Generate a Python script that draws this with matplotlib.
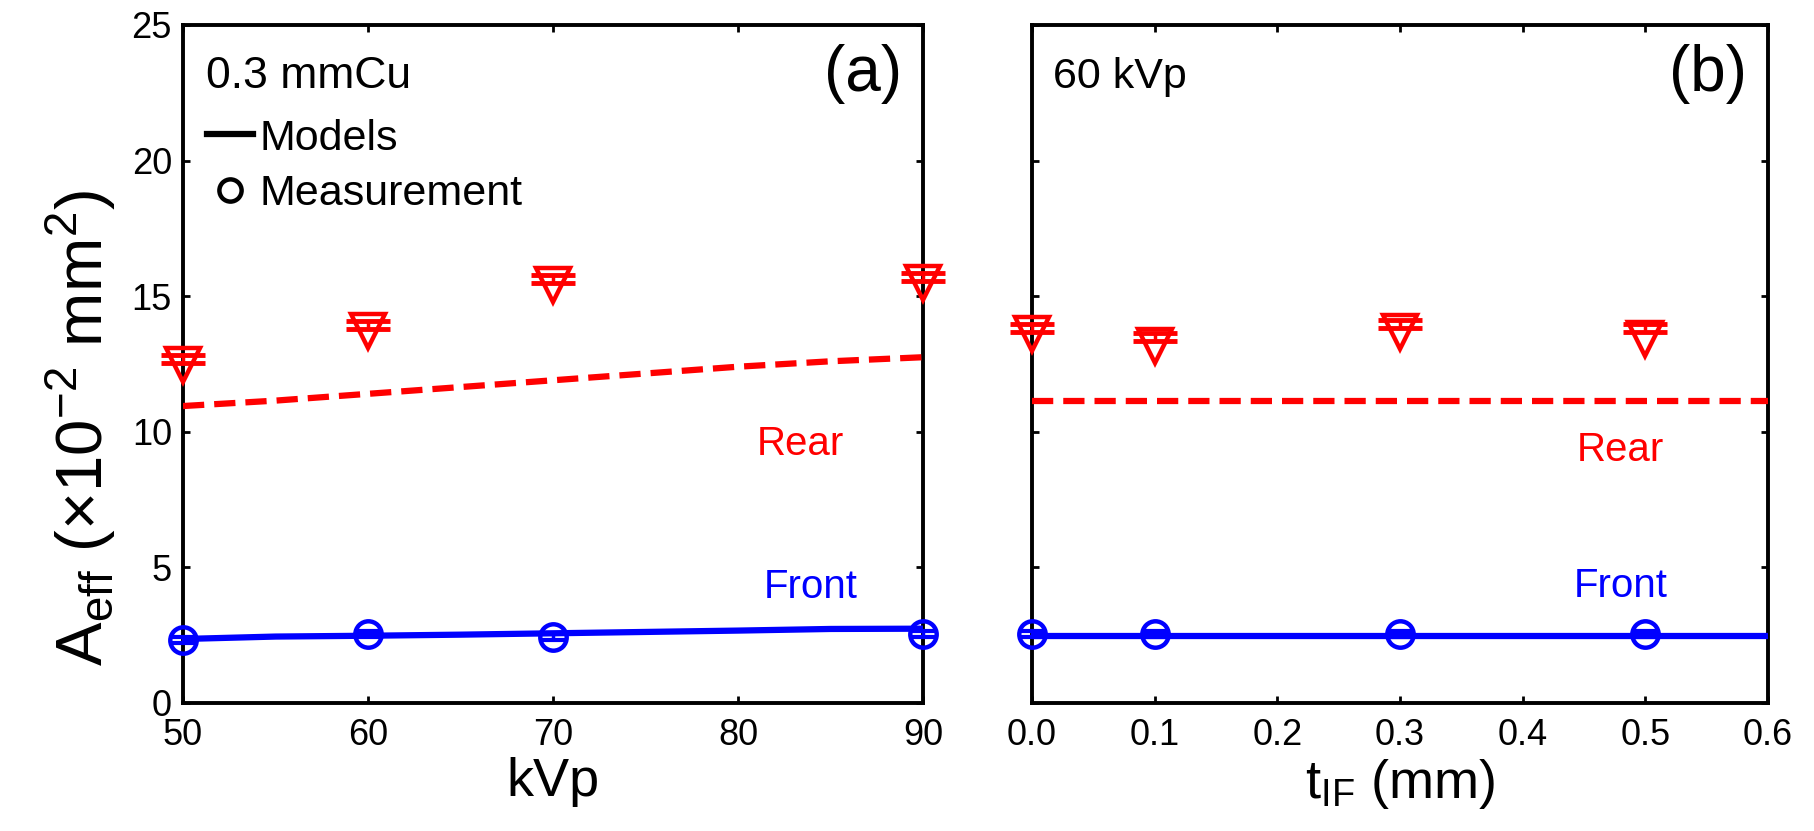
import matplotlib
matplotlib.use("Agg")
import matplotlib.pyplot as plt
from matplotlib.lines import Line2D

plt.rcParams['font.family'] = ['Liberation Sans', 'DejaVu Sans']
plt.rcParams['mathtext.fontset'] = 'custom'
plt.rcParams['mathtext.rm'] = 'Liberation Sans'

# ---------------- data ----------------
# panel (a): vs kVp (0.3 mmCu)
kvp_model = [50, 55, 60, 65, 70, 75, 80, 85, 90]
front_model_a = [2.36, 2.45, 2.48, 2.52, 2.57, 2.62, 2.67, 2.73, 2.74]
rear_model_a = [10.95, 11.15, 11.40, 11.65, 11.90, 12.15, 12.40, 12.60, 12.75]

kvp_meas = [50, 60, 70, 90]
front_meas_a = [2.33, 2.55, 2.45, 2.55]
front_err_a = [0.12, 0.12, 0.12, 0.12]
rear_meas_a = [12.46, 13.72, 15.42, 15.48]
rear_bar_a = [12.70, 13.95, 15.65, 15.70]
rear_err_a = [0.15, 0.15, 0.15, 0.15]

# panel (b): vs t_IF (60 kVp)
tif_model = [0.0, 0.1, 0.2, 0.3, 0.4, 0.5, 0.6]
front_model_b = [2.47, 2.47, 2.47, 2.47, 2.47, 2.47, 2.47]
rear_model_b = [11.15, 11.15, 11.15, 11.15, 11.15, 11.15, 11.15]

tif_meas = [0.0, 0.1, 0.3, 0.5]
front_meas_b = [2.55, 2.55, 2.55, 2.55]
front_err_b = [0.12, 0.12, 0.12, 0.12]
rear_meas_b = [13.60, 13.18, 13.69, 13.44]
rear_bar_b = [13.83, 13.48, 13.97, 13.83]
rear_err_b = [0.15, 0.15, 0.15, 0.15]

xticks_a = [50, 60, 70, 80, 90]
xticks_b = [0.0, 0.1, 0.2, 0.3, 0.4, 0.5, 0.6]
xticklabels_b = ['0.0', '0.1', '0.2', '0.3', '0.4', '0.5', '0.6']
yticks = [0, 5, 10, 15, 20, 25]

# ---------------- styles ----------------
BLUE = '#0000ff'
RED = '#ff0000'
LW = 4.5
TICK_FS = 26
LABEL_FS = 39
YLABEL_FS = 47
NOTE_FS = 29
PANEL_FS = 46

fig = plt.figure(figsize=(18.15, 8.31), dpi=100)
ax_a = fig.add_axes([183 / 1815, 128 / 831, 740 / 1815, 678 / 831])
ax_b = fig.add_axes([1032 / 1815, 128 / 831, 736 / 1815, 678 / 831])


def draw(ax, xm, fm, rm, xs, fs, fe, rs, rb, re):
    ax.plot(xm, fm, color=BLUE, lw=LW, solid_capstyle='butt', zorder=3)
    ax.plot(xm, rm, color=RED, lw=LW, dashes=(3.4, 1.6), zorder=3)
    ax.errorbar(xs, fs, yerr=fe, fmt='none', ecolor=BLUE, elinewidth=2.5,
                capsize=10, capthick=3, clip_on=False, zorder=4)
    ax.plot(xs, fs, linestyle='none', marker='o', ms=19, mfc='none',
            mec=BLUE, mew=3.2, clip_on=False, zorder=5)
    ax.errorbar(xs, rb, yerr=re, fmt='none', ecolor=RED, elinewidth=2.5,
                capsize=16, capthick=3.5, clip_on=False, zorder=4)
    ax.plot(xs, rs, linestyle='none', marker='v', ms=24, mfc='none',
            mec=RED, mew=3.2, clip_on=False, zorder=5)


draw(ax_a, kvp_model, front_model_a, rear_model_a, kvp_meas, front_meas_a,
     front_err_a, rear_meas_a, rear_bar_a, rear_err_a)
draw(ax_b, tif_model, front_model_b, rear_model_b, tif_meas, front_meas_b,
     front_err_b, rear_meas_b, rear_bar_b, rear_err_b)

ax_a.set_xlim(50, 90)
ax_b.set_xlim(0, 0.6)
for ax in (ax_a, ax_b):
    ax.set_ylim(0, 25)
    ax.set_yticks(yticks)
    for s in ax.spines.values():
        s.set_linewidth(2.8)
        s.set_color('black')
    ax.tick_params(direction='in', length=5, width=2, top=True, right=True,
                   labelsize=TICK_FS, pad=8)
    ax.tick_params(axis='x', pad=11)

ax_a.set_xticks(xticks_a)
ax_b.set_xticks(xticks_b)
ax_b.set_xticklabels(xticklabels_b)
ax_b.tick_params(labelleft=False)

ax_a.set_xlabel('kVp', fontsize=LABEL_FS, labelpad=3)
ax_b.set_xlabel(r't$_{\mathregular{IF}}$ (mm)', fontsize=LABEL_FS, labelpad=3)
ax_a.set_ylabel(r'A$_{\mathregular{eff}}$ ($\mathregular{\times}$10$^{\mathregular{-2}}$ mm$^{\mathregular{2}}$)',
                fontsize=YLABEL_FS, va='center')
ax_a.yaxis.set_label_coords(-0.138, 0.405)

# annotations
ax_a.text(0.031, 0.924, '0.3 mmCu', transform=ax_a.transAxes, fontsize=NOTE_FS + 3,
          ha='left', va='center')
ax_a.text(0.972, 0.928, '(a)', transform=ax_a.transAxes, fontsize=PANEL_FS,
          ha='right', va='center')
ax_b.text(0.029, 0.924, '60 kVp', transform=ax_b.transAxes, fontsize=NOTE_FS + 2,
          ha='left', va='center')
ax_b.text(0.972, 0.928, '(b)', transform=ax_b.transAxes, fontsize=PANEL_FS,
          ha='right', va='center')

ax_a.text(0.834, 0.382, 'Rear', transform=ax_a.transAxes, fontsize=NOTE_FS,
          color=RED, ha='center', va='center')
ax_a.text(0.848, 0.171, 'Front', transform=ax_a.transAxes, fontsize=NOTE_FS,
          color=BLUE, ha='center', va='center')
ax_b.text(0.80, 0.373, 'Rear', transform=ax_b.transAxes, fontsize=NOTE_FS,
          color=RED, ha='center', va='center')
ax_b.text(0.80, 0.172, 'Front', transform=ax_b.transAxes, fontsize=NOTE_FS,
          color=BLUE, ha='center', va='center')

handles = [Line2D([], [], color='black', lw=LW),
           Line2D([], [], color='black', linestyle='none', marker='o', ms=16,
                  mfc='none', mew=3.2)]
ax_a.legend(handles, ['Models', 'Measurement'], loc='upper left',
            bbox_to_anchor=(0.033, 0.862), frameon=False, fontsize=NOTE_FS + 2,
            handlelength=1.05, handletextpad=0.15, labelspacing=0.35,
            borderpad=0, borderaxespad=0)

fig.savefig('out.png', dpi=100)
